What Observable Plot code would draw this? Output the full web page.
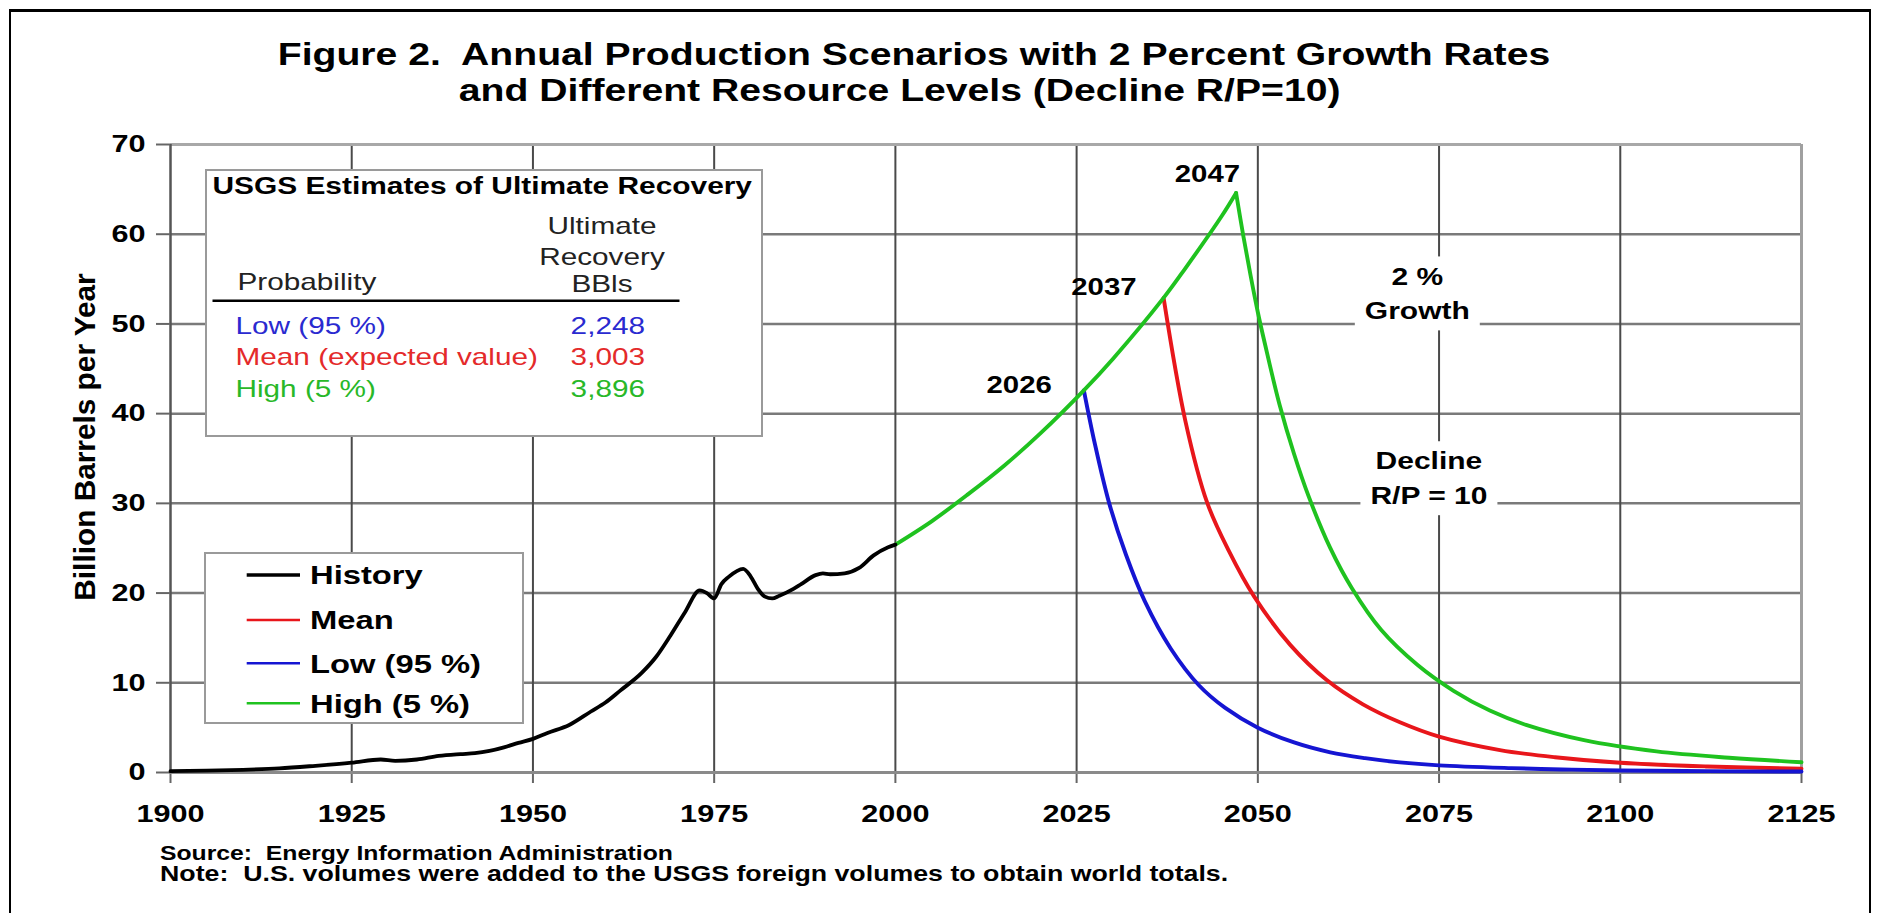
<!DOCTYPE html>
<html>
<head>
<meta charset="utf-8">
<script src="https://cdn.jsdelivr.net/npm/d3@7"></script>
<script src="https://cdn.jsdelivr.net/npm/@observablehq/plot@0.6"></script>
<style>
html,body{margin:0;padding:0;background:#fff;overflow:hidden;}
#wrap{position:relative;width:1883px;height:913px;font-family:'Liberation Sans',Arial,sans-serif;color:#000;}
#border{position:absolute;left:9px;top:9px;width:1862px;height:1000px;border-top:3px solid #000;border-left:2px solid #000;border-right:2px solid #000;box-sizing:border-box;}
.tl{position:absolute;left:0;text-align:center;font-weight:bold;font-size:31.3px;line-height:31px;white-space:pre;}
.tl span{display:inline-block;transform:scaleX(1.25);transform-origin:50% 50%;}
#chart{position:absolute;left:0;top:110px;}
.fn{position:absolute;left:160px;font-weight:bold;line-height:21px;white-space:pre;transform:scaleX(1.25);transform-origin:0 50%;}
</style>
</head>
<body>
<div id="wrap">
  <div id="border"></div>
  <div class="tl" style="top:39px;width:1828px"><span>Figure 2.  Annual Production Scenarios with 2 Percent Growth Rates</span></div>
  <div class="tl" style="top:75px;width:1800px"><span>and Different Resource Levels (Decline R/P=10)</span></div>
  <div id="chart"></div>
  <div class="fn" style="top:843px;font-size:19.8px">Source:  Energy Information Administration</div>
  <div class="fn" style="top:864px;font-size:21.4px">Note:  U.S. volumes were added to the USGS foreign volumes to obtain world totals.</div>
</div>
<script>
// ---------- data ----------
const xTicks = [1900, 1925, 1950, 1975, 2000, 2025, 2050, 2075, 2100, 2125];
const yTicks = [0, 10, 20, 30, 40, 50, 60, 70];

// historical world production (billion barrels per year)
const history = [
  [1900,0.15],[1905,0.2],[1910,0.3],[1915,0.45],[1920,0.75],[1925,1.1],[1929,1.45],[1931,1.3],
  [1934,1.45],[1937,1.85],[1940,2.05],[1942,2.15],[1944,2.4],[1946,2.8],[1948,3.3],[1950,3.75],
  [1952,4.4],[1955,5.3],[1958,6.8],[1960,7.8],[1962,9.1],[1965,11.1],[1967,12.9],[1969,15.3],
  [1971,17.9],[1973,20.3],[1974,20.0],[1975,19.4],[1976,21.0],[1977,21.8],[1979,22.7],[1980,21.9],
  [1981,20.5],[1982,19.6],[1983,19.4],[1984,19.7],[1986,20.5],[1987,21.0],[1989,22.0],[1990,22.2],
  [1991,22.1],[1993,22.2],[1995,22.8],[1997,24.2],[1999,25.1],[2000,25.4]
];
// 2 % growth path (shared by all scenarios until their peak)
const growth = [
  [2000,25.4],[2005,28.0],[2010,31.0],[2015,34.2],[2020,37.8],[2026,42.6],[2030,46.1],
  [2037,52.9],[2040,56.2],[2045,62.0],[2047,64.6]
];
// decline paths (R/P = 10)
const lowDecline = [
  [2026,42.6],[2027.5,36.7],[2029.5,30.0],[2031.8,24.3],[2034.4,19.1],[2038,13.8],[2041.9,9.7],
  [2045.5,7.2],[2050,5.0],[2055,3.35],[2060,2.25],[2064.8,1.6],[2069.6,1.13],[2075,0.8],[2085,0.49],
  [2092,0.34],[2100,0.23],[2112,0.15],[2125,0.11]
];
const meanDecline = [
  [2037,52.9],[2040,39.2],[2043,30.1],[2046,24.7],[2049.5,19.6],[2054.5,14.2],[2059.5,10.3],
  [2064.5,7.6],[2069.6,5.6],[2075,4.0],[2083.4,2.5],[2091,1.7],[2100,1.08],[2112,0.67],[2125,0.42]
];
const highDecline = [
  [2047,64.6],[2048,59.8],[2049,55.4],[2050,51.3],[2051,47.7],[2053,41.0],[2055,35.5],[2057,30.8],
  [2060,25.0],[2063,20.5],[2067,15.9],[2072,12.0],[2077,9.1],[2082,6.9],[2087,5.3],[2095,3.6],
  [2105,2.35],[2115,1.65],[2125,1.15]
];

const legendNames = ["History", "Mean", "Low (95 %)", "High (5 %)"];
const legendColors = ["#000000", "#e8161b", "#1515d2", "#1fc21f"];

const usgsTitle = "USGS Estimates of Ultimate Recovery";
const usgsHeader = ["Ultimate", "Recovery", "BBls"];
const usgsLabels = ["Low (95 %)", "Mean (expected value)", "High (5 %)"];
const usgsValues = ["2,248", "3,003", "3,896"];
const usgsColors = ["#2a2ad0", "#e42a2a", "#28b828"];

const annotations = [
  {text: "2 %\nGrowth", x: 2072, y: 53.7},
  {text: "Decline\nR/P = 10", x: 2073.6, y: 33.1}
];

// ---------- chart ----------
const S = 1.25; // horizontal text stretch
const RED = legendColors[1], BLUE = legendColors[2], GREEN = legendColors[3];
const toObj = arr => arr.map(([year, value]) => ({year, value}));
const lineOpts = (stroke) => ({x: "year", y: "value", stroke, strokeWidth: 3.9, curve: "catmull-rom"});

const chart = Plot.plot({
  width: 1883,
  height: 725,
  marginTop: 34,
  marginBottom: 63,
  marginLeft: 170,
  marginRight: 82,
  style: {fontFamily: "'Liberation Sans', Arial, sans-serif", fontWeight: "bold", background: "transparent", color: "#000", overflow: "visible"},
  x: {domain: [1900, 2125]},
  y: {domain: [0, 70]},
  marks: [
    Plot.gridY(yTicks.filter(v => v > 0 && v < 70), {stroke: "#7a7a7a", strokeOpacity: 1, strokeWidth: 2.5}),
    Plot.gridX(xTicks.filter(v => v > 1900 && v < 2125), {stroke: "#4a4a4a", strokeOpacity: 1, strokeWidth: 2}),
    Plot.ruleY([70], {stroke: "#a8a8a8", strokeWidth: 3}),
    Plot.ruleX([2125], {stroke: "#a0a0a0", strokeWidth: 3}),
    Plot.ruleX([1900], {stroke: "#555", strokeWidth: 2.5}),
    Plot.axisY({ticks: yTicks, tickSize: 14, tickPadding: 11, stroke: "#666", strokeWidth: 2, fill: "#000", label: null, fontSize: 24.5}),
    Plot.axisX({ticks: xTicks, tickSize: 11, tickPadding: 21, tickFormat: "d", stroke: "#666", strokeWidth: 2, fill: "#000", label: null, fontSize: 24.5}),
    Plot.ruleY([0], {stroke: "#8a8a8a", strokeWidth: 3}),
    Plot.text(annotations, {x: "x", y: "y", text: "text", lineHeight: 1.44, fill: "#000", fontSize: 24, fontWeight: "bold"}),
    Plot.line(toObj(meanDecline), lineOpts(RED)),
    Plot.line(toObj(lowDecline), lineOpts(BLUE)),
    Plot.line(toObj(highDecline), lineOpts(GREEN)),
    Plot.line(toObj(growth), lineOpts(GREEN)),
    Plot.line(toObj(history), {x: "year", y: "value", stroke: "#000", strokeWidth: 3.8, curve: "monotone-x"}),
    Plot.text([lowDecline[0]], {x: d => d[0], y: d => d[1], text: d => String(d[0]), textAnchor: "end", dx: -32, dy: -5, fontSize: 23.5, fontWeight: "bold", fill: "#000"}),
    Plot.text([meanDecline[0]], {x: d => d[0], y: d => d[1], text: d => String(d[0]), textAnchor: "end", dx: -27, dy: -10, fontSize: 23.5, fontWeight: "bold", fill: "#000"}),
    Plot.text([highDecline[0]], {x: d => d[0], y: d => d[1], text: d => String(d[0]), textAnchor: "end", dx: 4, dy: -18, fontSize: 23.5, fontWeight: "bold", fill: "#000"})
  ]
});

// stretch every Plot text horizontally around its anchor
chart.querySelectorAll("text").forEach(t => {
  const x = t.getAttribute("x") || 0;
  t.removeAttribute("x");
  const tr = t.getAttribute("transform") || "";
  t.setAttribute("transform", `${tr} translate(${x},0) scale(${S},1)`);
});

document.getElementById("chart").appendChild(chart);

// white boxes behind the in-plot annotations (cut the grid lines)
const svgBox = chart.getBoundingClientRect();
const annTexts = annotations.map(a => a.text.replace("\n", ""));
chart.querySelectorAll("text").forEach(t => {
  if (!annTexts.includes(t.textContent)) return;
  const r = t.getBoundingClientRect();
  const pad = 10;
  const rect = document.createElementNS("http://www.w3.org/2000/svg", "rect");
  rect.setAttribute("x", r.left - svgBox.left - pad);
  rect.setAttribute("y", r.top - svgBox.top - pad + 4);
  rect.setAttribute("width", r.width + 2 * pad);
  rect.setAttribute("height", r.height + 2 * pad - 8);
  rect.setAttribute("fill", "#fff");
  const g = t.parentNode;
  g.parentNode.insertBefore(rect, g);
});

// ---------- overlays (pixel layout, svg coordinates) ----------
const svg = d3.select(chart);
const ov = svg.append("g");
function txt(x, y, s, o = {}) {
  const sx = o.stretch === undefined ? S : o.stretch;
  return ov.append("text")
    .attr("transform", `translate(${x},${y}) scale(${sx},1)` + (o.rotate ? ` rotate(${o.rotate})` : ""))
    .attr("dy", "0.36em")
    .attr("text-anchor", o.anchor || "start")
    .attr("font-size", o.size || 24)
    .attr("font-weight", o.weight || "bold")
    .attr("fill", o.fill || "#000")
    .text(s);
}

// y-axis title
txt(84, 327, "Billion Barrels per Year", {rotate: -90, anchor: "middle", size: 29.8, stretch: 1});

// USGS table box
ov.append("rect").attr("x", 206).attr("y", 60).attr("width", 556).attr("height", 266)
  .attr("fill", "#fff").attr("stroke", "#9a9a9a").attr("stroke-width", 2);
txt(212.5, 75, usgsTitle, {size: 23.9});
usgsHeader.forEach((h, i) => txt(602, [115, 146.7, 173.3][i], h, {anchor: "middle", size: 23.8, weight: "normal", fill: "#222"}));
txt(237.5, 171.7, "Probability", {size: 23.8, weight: "normal", fill: "#222"});
ov.append("line").attr("x1", 212.5).attr("x2", 679.5).attr("y1", 190.7).attr("y2", 190.7)
  .attr("stroke", "#000").attr("stroke-width", 2.5);
usgsLabels.forEach((l, i) => {
  const y = 215 + i * 31.7;
  txt(235.5, y, l, {size: 23.8, weight: "normal", fill: usgsColors[i]});
  txt(645, y, usgsValues[i], {size: 23.8, weight: "normal", fill: usgsColors[i], anchor: "end"});
});

// series legend box
ov.append("rect").attr("x", 205).attr("y", 443).attr("width", 318).attr("height", 170)
  .attr("fill", "#fff").attr("stroke", "#9a9a9a").attr("stroke-width", 2);
legendNames.forEach((n, i) => {
  const y = [465, 510, 553.3, 593.3][i];
  ov.append("line").attr("x1", 246.7).attr("x2", 300).attr("y1", y).attr("y2", y)
    .attr("stroke", legendColors[i]).attr("stroke-width", i === 0 ? 3.6 : 2.6);
  txt(310, y, n, {size: 26.2});
});
</script>
</body>
</html>
